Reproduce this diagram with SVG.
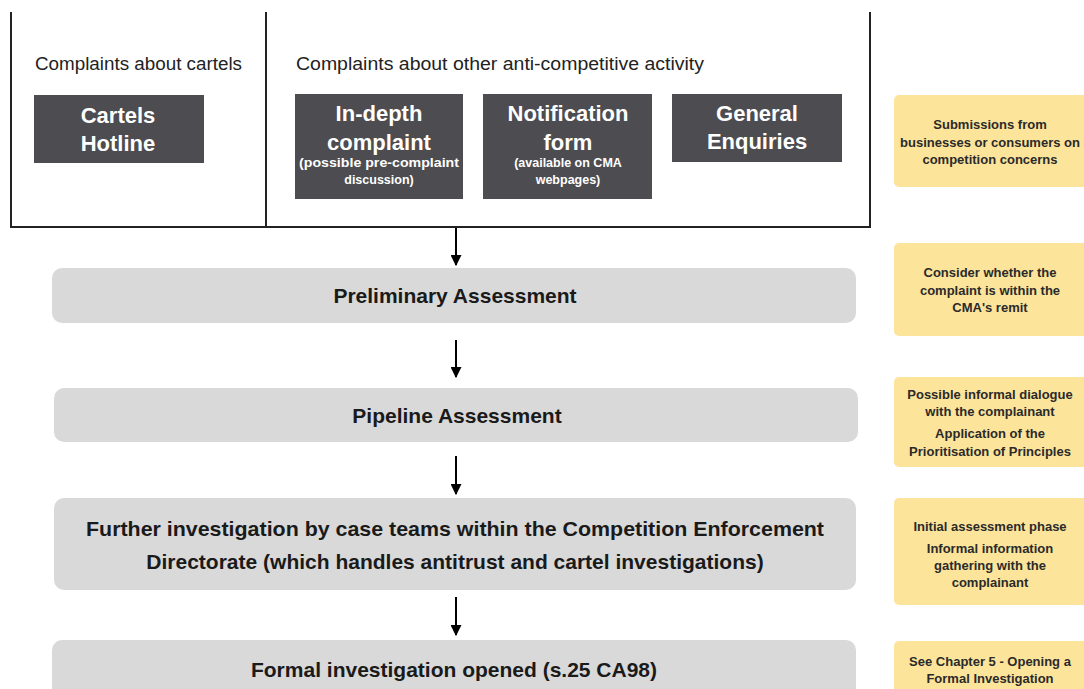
<svg xmlns="http://www.w3.org/2000/svg" width="1084" height="689" viewBox="0 0 1084 689">
<style>
text{font-family:"Liberation Sans",Arial,sans-serif;text-anchor:middle}
.hdr{font-size:17.5px;fill:#222;text-anchor:start}
.dark{fill:#4d4c50}
.wt{fill:#fff;font-weight:bold;font-size:22px}
.ws{fill:#fff;font-weight:bold;font-size:12.5px}
.gray{fill:#d9d9d9}
.gt{fill:#1a1a1a;font-weight:bold;font-size:21px}
.yel{fill:#fde49b}
.yt{fill:#2a2a2a;font-weight:bold;font-size:13px}
.frame{stroke:#222;stroke-width:2;fill:none}
.conn{stroke:#000;stroke-width:2;fill:none}
</style>
<defs>
<marker id="ah" viewBox="0 0 10 10" refX="9" refY="5" markerWidth="5.5" markerHeight="5.5" orient="auto" markerUnits="strokeWidth">
<path d="M0,0 L10,5 L0,10 z" fill="#000"/>
</marker>
</defs>
<rect width="1084" height="689" fill="#fff"/>
<g id="frame">
<path class="frame" d="M11,12 V227 H870 V12 M266,12 V227"/>
<text class="hdr" x="35" y="70" textLength="207" lengthAdjust="spacingAndGlyphs">Complaints about cartels</text>
<text class="hdr" x="296" y="70" textLength="408" lengthAdjust="spacingAndGlyphs">Complaints about other anti-competitive activity</text>
</g>
<g id="cartels">
<rect class="dark" x="34" y="95" width="170" height="68"/>
<text class="wt" x="118" y="123">Cartels</text>
<text class="wt" x="118" y="151">Hotline</text>
</g>
<g id="indepth">
<rect class="dark" x="295" y="94" width="168" height="105"/>
<text class="wt" x="379" y="121">In-depth</text>
<text class="wt" x="379" y="150">complaint</text>
<text class="ws" x="379" y="167" textLength="160" lengthAdjust="spacingAndGlyphs">(possible pre-complaint</text>
<text class="ws" x="379" y="184">discussion)</text>
</g>
<g id="notification">
<rect class="dark" x="483" y="94" width="169" height="105"/>
<text class="wt" x="568" y="121">Notification</text>
<text class="wt" x="568" y="150">form</text>
<text class="ws" x="568" y="167">(available on CMA</text>
<text class="ws" x="568" y="184">webpages)</text>
</g>
<g id="general">
<rect class="dark" x="672" y="94" width="170" height="68"/>
<text class="wt" x="757" y="121">General</text>
<text class="wt" x="757" y="149">Enquiries</text>
</g>
<g id="preliminary">
<rect class="gray" x="52" y="268" width="804" height="55" rx="10"/>
<text class="gt" x="455" y="303">Preliminary Assessment</text>
</g>
<g id="pipeline">
<rect class="gray" x="54" y="388" width="804" height="54" rx="10"/>
<text class="gt" x="457" y="423">Pipeline Assessment</text>
</g>
<g id="further">
<rect class="gray" x="54" y="498" width="802" height="92" rx="10"/>
<text class="gt" x="455" y="536" textLength="738" lengthAdjust="spacingAndGlyphs">Further investigation by case teams within the Competition Enforcement</text>
<text class="gt" x="455" y="569">Directorate (which handles antitrust and cartel investigations)</text>
</g>
<g id="formal">
<rect class="gray" x="52" y="640" width="804" height="60" rx="10"/>
<text class="gt" x="454" y="677">Formal investigation opened (s.25 CA98)</text>
</g>
<g id="note1">
<rect class="yel" x="894" y="95" width="200" height="92" rx="5"/>
<text class="yt" x="990" y="129">Submissions from</text>
<text class="yt" x="990" y="147">businesses or consumers on</text>
<text class="yt" x="990" y="164">competition concerns</text>
</g>
<g id="note2">
<rect class="yel" x="894" y="243" width="200" height="93" rx="5"/>
<text class="yt" x="990" y="277">Consider whether the</text>
<text class="yt" x="990" y="295">complaint is within the</text>
<text class="yt" x="990" y="312">CMA's remit</text>
</g>
<g id="note3">
<rect class="yel" x="894" y="377" width="200" height="90" rx="5"/>
<text class="yt" x="990" y="399">Possible informal dialogue</text>
<text class="yt" x="990" y="416">with the complainant</text>
<text class="yt" x="990" y="438">Application of the</text>
<text class="yt" x="990" y="456">Prioritisation of Principles</text>
</g>
<g id="note4">
<rect class="yel" x="894" y="498" width="200" height="107" rx="5"/>
<text class="yt" x="990" y="531">Initial assessment phase</text>
<text class="yt" x="990" y="553">Informal information</text>
<text class="yt" x="990" y="570">gathering with the</text>
<text class="yt" x="990" y="587">complainant</text>
</g>
<g id="note5">
<rect class="yel" x="894" y="641" width="200" height="60" rx="5"/>
<text class="yt" x="990" y="666">See Chapter 5 - Opening a</text>
<text class="yt" x="990" y="683">Formal Investigation</text>
</g>
<g id="connectors">
<line class="conn" x1="456" y1="228" x2="456" y2="265" marker-end="url(#ah)"/>
<line class="conn" x1="456" y1="340" x2="456" y2="377" marker-end="url(#ah)"/>
<line class="conn" x1="456" y1="456" x2="456" y2="494" marker-end="url(#ah)"/>
<line class="conn" x1="456" y1="597" x2="456" y2="635" marker-end="url(#ah)"/>
</g>
</svg>
